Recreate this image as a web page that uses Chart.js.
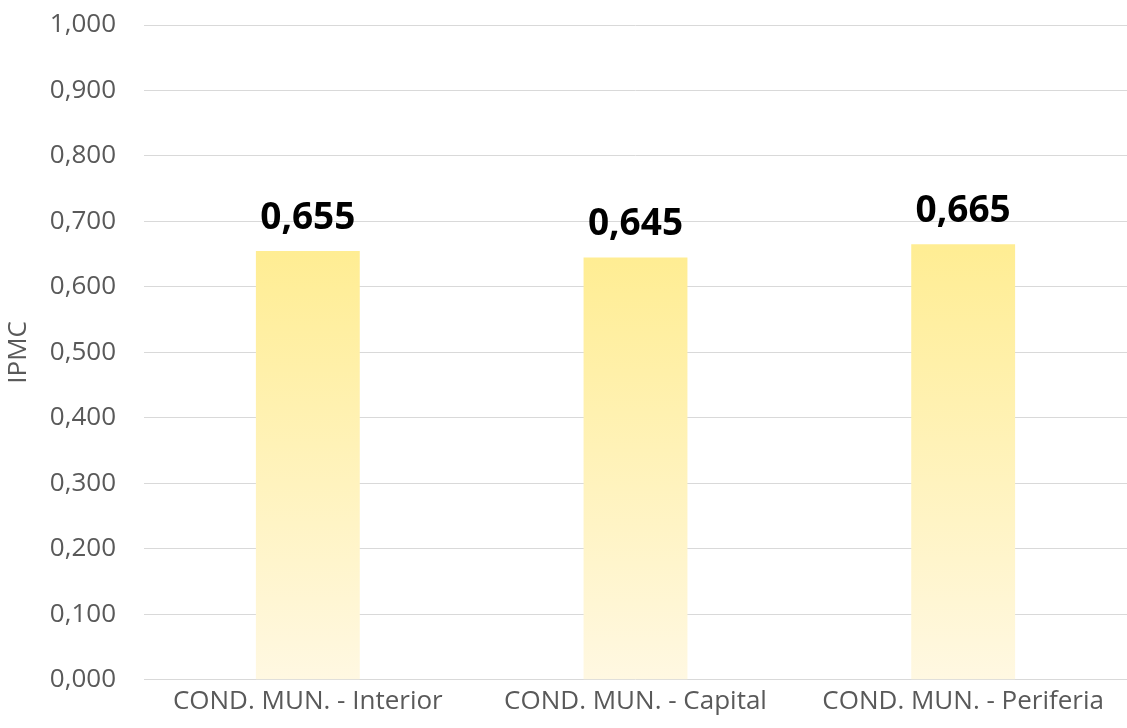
<!DOCTYPE html>
<html>
<head>
<meta charset="utf-8">
<style>
  html, body { margin: 0; padding: 0; background: #fff; }
  #wrap { position: relative; width: 1127px; height: 728px; }
</style>
</head>
<body>
<div id="wrap">
  <canvas id="myChart"></canvas>
</div>

<script src="https://cdn.jsdelivr.net/npm/chart.js"></script>

<script>
const categories = ["COND. MUN. - Interior", "COND. MUN. - Capital", "COND. MUN. - Periferia"];
const ipmc = [0.655, 0.645, 0.665];
const yTicks = [0, 0.1, 0.2, 0.3, 0.4, 0.5, 0.6, 0.7, 0.8, 0.9, 1.0];

const fmt = v => v.toFixed(3).replace('.', ',');

// draw the value over each bar
const valueLabels = {
  id: 'valueLabels',
  afterDatasetsDraw(chart) {
    const c = chart.ctx;
    const meta = chart.getDatasetMeta(0);
    c.save();
    c.font = 'bold 37px "Open Sans"';
    c.fillStyle = '#000';
    c.textAlign = 'center';
    c.textBaseline = 'alphabetic';
    meta.data.forEach((bar, i) => {
      c.fillText(fmt(ipmc[i]), bar.x, bar.y - 22);
    });
    c.restore();
  }
};

function barFill(context) {
  const chart = context.chart;
  if (!chart.chartArea || context.dataIndex === undefined) return '#FFEE99';
  const y = chart.scales.y;
  const top = y.getPixelForValue(ipmc[context.dataIndex]);
  const bottom = y.getPixelForValue(0);
  const g = chart.ctx.createLinearGradient(0, top, 0, bottom);
  g.addColorStop(0, '#FFED93');
  g.addColorStop(1, '#FFF8E2');
  return g;
}

const ctx = document.getElementById('myChart');
new Chart(ctx, {
  type: 'bar',
  data: {
    labels: categories,
    datasets: [{
      label: 'IPMC',
      data: ipmc,
      backgroundColor: barFill,
      borderWidth: 0,
      categoryPercentage: 1,
      barPercentage: 0.317
    }]
  },
  options: {
    responsive: true,
    maintainAspectRatio: false,
    animation: false,
    layout: { padding: { top: 25, right: 0, left: 3, bottom: 5 } },
    plugins: {
      legend: { display: false },
      tooltip: { enabled: false }
    },
    scales: {
      x: {
        grid: { display: false, drawTicks: false },
        border: { display: false },
        ticks: {
          color: '#595959',
          font: { family: 'Open Sans', size: 26 },
          padding: 6,
          maxRotation: 0
        },
        afterFit(axis) { axis.paddingLeft = 0; axis.paddingRight = 0; }
      },
      y: {
        min: 0,
        max: 1,
        afterBuildTicks(axis) { axis.ticks = yTicks.map(v => ({ value: v })); },
        afterFit(axis) { axis.paddingTop = 0; axis.paddingBottom = 0; axis.width = 141; },
        grid: { color: '#D9D9D9', lineWidth: 1, drawTicks: false },
        border: { display: false },
        ticks: {
          color: '#595959',
          font: { family: 'Open Sans', size: 26 },
          padding: 28,
          callback: v => fmt(v)
        },
        title: {
          display: true,
          text: 'IPMC',
          color: '#595959',
          font: { family: 'Open Sans', size: 26 },
          padding: { top: 0, bottom: 14 }
        }
      }
    }
  },
  plugins: [valueLabels]
});
</script>
</body>
</html>
